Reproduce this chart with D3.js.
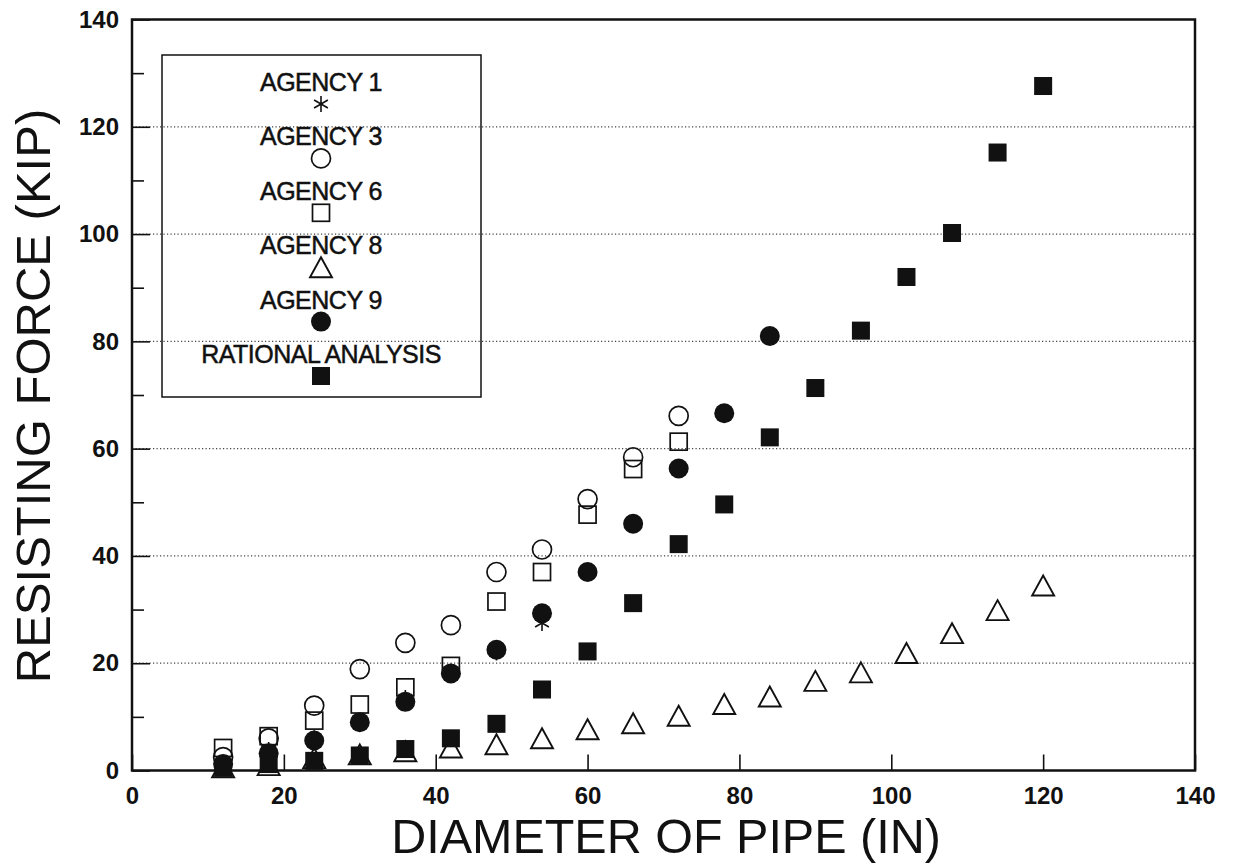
<html lang="en">
<head>
<meta charset="utf-8">
<title>Resisting force vs pipe diameter</title>
<script src="https://cdn.jsdelivr.net/npm/d3@7"></script>
<style>
  body { margin: 0; background: #fff; }
  svg text { font-family: "Liberation Sans", Arial, sans-serif; fill: #111; }
  .axis text { font-size: 24px; font-weight: bold; }
  .axis path { display: none; }
  .axis line { stroke: #111; stroke-width: 1.6; }
  .legtext { stroke: #111; stroke-width: 0.5px; }
</style>
</head>
<body>
<script>
// pipe diameters (in)
var diam = [12, 18, 24, 30, 36, 42, 48, 54, 60, 66, 72, 78, 84, 90, 96, 102, 108, 114, 120];

// resisting force (kip)
var agency1 = [1.5, 3.8, 6.0, 8.7, 13.5, 18.4, 22.0, 27.5];
var agency3 = [2.5, 6.0, 12.1, 18.9, 23.8, 27.1, 37.0, 41.2, 50.6, 58.4, 66.1];
var agency6 = [4.2, 6.4, 9.3, 12.3, 15.5, 19.5, 31.5, 37.0, 47.7, 56.2, 61.3];
var agency8 = [0.6, 1.0, 2.3, 3.0, 3.6, 4.3, 4.9, 6.0, 7.7, 8.8, 10.2, 12.4, 13.8, 16.7, 18.3, 21.9, 25.6, 29.9, 34.5];
var agency9 = [1.2, 3.2, 5.6, 9.0, 12.8, 18.1, 22.5, 29.3, 37.0, 46.0, 56.3, 66.6, 81.0];
var rational = [0.5, 1.2, 1.8, 2.8, 4.0, 6.0, 8.7, 15.1, 22.2, 31.2, 42.2, 49.6, 62.1, 71.3, 82.0, 92.0, 100.2, 115.2, 127.6];

var legendLabels = ["AGENCY 1", "AGENCY 3", "AGENCY 6", "AGENCY 8", "AGENCY 9", "RATIONAL ANALYSIS"];
var xTicks = [0, 20, 40, 60, 80, 100, 120, 140];
var yTicks = [0, 20, 40, 60, 80, 100, 120, 140];
var yMinor = [10, 30, 50, 70, 90, 110, 130];

var w = 1234, h = 867;

var svg = d3.select("body").append("svg")
    .attr("width", w)
    .attr("height", h);

var xScale = d3.scaleLinear().domain([0, 140]).range([132, 1195]);
var yScale = d3.scaleLinear().domain([0, 140]).range([770.5, 19.5]);

// dotted grid lines
svg.append("g").selectAll("line")
   .data(yTicks.filter(function(d) { return d > 0 && d < 140; }))
   .enter().append("line")
   .attr("x1", xScale(0)).attr("x2", xScale(140))
   .attr("y1", function(d) { return yScale(d); })
   .attr("y2", function(d) { return yScale(d); })
   .attr("stroke", "#444")
   .attr("stroke-width", 1.2)
   .attr("stroke-dasharray", "1.2,2.3");

// axes with inward ticks
svg.append("g").attr("class", "axis")
   .attr("transform", "translate(" + xScale(0) + ",0)")
   .call(d3.axisLeft(yScale).tickValues(yTicks).tickSize(-18).tickPadding(13));
svg.append("g").attr("class", "axis")
   .attr("transform", "translate(" + xScale(0) + ",0)")
   .call(d3.axisLeft(yScale).tickValues(yMinor).tickSize(-12).tickFormat(""));
svg.append("g").attr("class", "axis")
   .attr("transform", "translate(0," + yScale(0) + ")")
   .call(d3.axisBottom(xScale).tickValues(xTicks).tickSize(-16).tickPadding(16));

// frame
svg.append("rect")
   .attr("x", xScale(0)).attr("y", yScale(140))
   .attr("width", xScale(140) - xScale(0))
   .attr("height", yScale(0) - yScale(140))
   .attr("fill", "none")
   .attr("stroke", "#111")
   .attr("stroke-width", 2.5);

// marker shapes
function drawMarker(g, kind) {
  if (kind == "star") {
    g.append("path")
     .attr("d", "M0,-8L0,8M-6.9,-4L6.9,4M-6.9,4L6.9,-4")
     .attr("stroke", "#111").attr("stroke-width", 1.6).attr("fill", "none");
  } else if (kind == "ocircle") {
    g.append("circle").attr("r", 9.5)
     .attr("fill", "none").attr("stroke", "#111").attr("stroke-width", 1.7);
  } else if (kind == "osquare") {
    g.append("rect").attr("x", -8.5).attr("y", -8.5).attr("width", 17).attr("height", 17)
     .attr("fill", "none").attr("stroke", "#111").attr("stroke-width", 1.7);
  } else if (kind == "otri") {
    g.append("path").attr("d", "M0,-10L11,10L-11,10Z")
     .attr("fill", "none").attr("stroke", "#111").attr("stroke-width", 1.9);
  } else if (kind == "fcircle") {
    g.append("circle").attr("r", 10).attr("fill", "#111");
  } else if (kind == "fsquare") {
    g.append("rect").attr("x", -9).attr("y", -9).attr("width", 18).attr("height", 18)
     .attr("fill", "#111");
  }
}

var series = [
  { vals: agency1, kind: "star" },
  { vals: agency3, kind: "ocircle" },
  { vals: agency6, kind: "osquare" },
  { vals: agency8, kind: "otri" },
  { vals: agency9, kind: "fcircle" },
  { vals: rational, kind: "fsquare" }
];

// drawing order so overlaps look like the plot
[0, 3, 2, 1, 4, 5].forEach(function(si) {
  var s = series[si];
  svg.append("g").selectAll("g")
     .data(s.vals)
     .enter().append("g")
     .attr("transform", function(d, i) {
       return "translate(" + xScale(diam[i]) + "," + yScale(d) + ")";
     })
     .each(function() { drawMarker(d3.select(this), s.kind); });
});

// legend box
var leg = svg.append("g");
leg.append("rect")
   .attr("x", 162).attr("y", 55).attr("width", 319).attr("height", 342)
   .attr("fill", "none").attr("stroke", "#111").attr("stroke-width", 1.5);
legendLabels.forEach(function(lab, i) {
  var ty = 91 + i * 54.4;
  leg.append("text")
     .attr("class", "legtext")
     .attr("x", 321).attr("y", ty)
     .attr("text-anchor", "middle")
     .style("font-size", "25px")
     .style("letter-spacing", "-0.5px")
     .text(lab);
  var m = leg.append("g").attr("transform", "translate(321," + (ty + 13) + ")");
  drawMarker(m, series[i].kind);
});

// axis titles
svg.append("text")
   .attr("x", 666).attr("y", 853)
   .attr("text-anchor", "middle")
   .style("font-size", "48.5px")
   .text("DIAMETER OF PIPE (IN)");
svg.append("text")
   .attr("transform", "translate(50,396) rotate(-90)")
   .attr("text-anchor", "middle")
   .style("font-size", "49px")
   .text("RESISTING FORCE (KIP)");
</script>
</body>
</html>
